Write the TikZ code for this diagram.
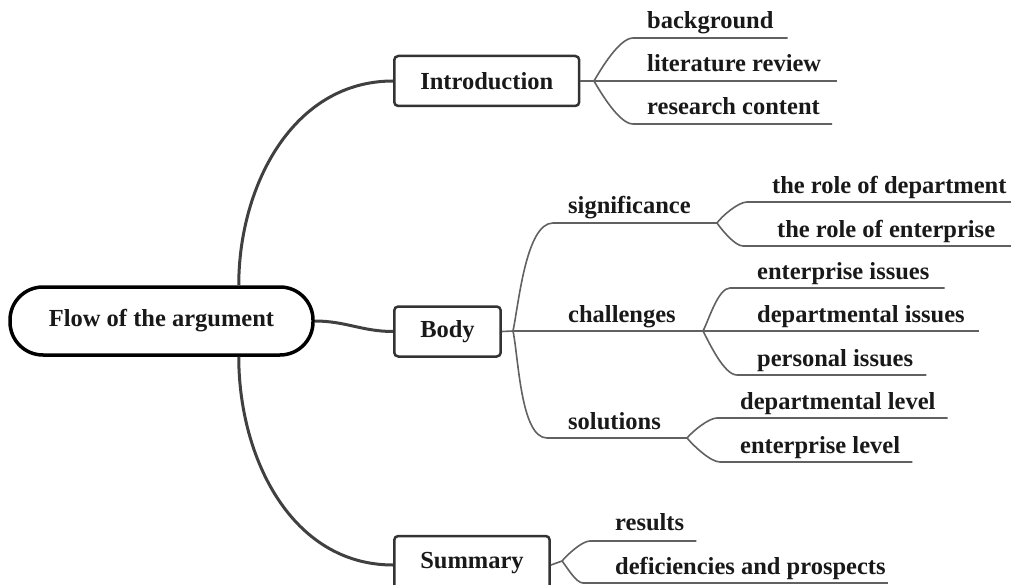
\documentclass[tikz,border=0pt]{standalone}
\usepackage{fontspec}
\setmainfont{Liberation Serif}
\usetikzlibrary{calc}

\begin{document}
\begin{tikzpicture}[
    x=1pt, y=-1pt,
    every node/.style={font=\fontsize{24.5}{28}\selectfont\bfseries, text=black!90},
    root node/.style={draw=black, line width=3.5pt, rounded corners=33pt, minimum width=303pt, minimum height=68pt, inner sep=0pt},
    part node/.style={draw=black!80, line width=2.5pt, rounded corners=4pt, minimum height=50pt, inner xsep=26pt, anchor=west},
    leaf node/.style={inner sep=0pt, anchor=base west},
    main edge/.style={line width=3pt, draw=black!75},
    sub edge/.style={line width=1.6pt, draw=black!62},
    fork/.style={out=#1, in=180, looseness=0.6}
]
\useasboundingbox (0,0) rectangle (1011,585);

% root and the three parts
\node[root node] (root) at (161.5, 321) {Flow of the argument};
\node[part node] (intro) at (393, 81)  {Introduction};
\node[part node] (body)  at (393, 331.5) {Body};
\node[part node, minimum height=54pt] (summ) at (393, 563) {Summary};

\draw[main edge] ([xshift=-76pt]root.north east) to[out=90, in=180] (intro.west);
\draw[main edge] (root.east) to[out=0, in=180] (body.west);
\draw[main edge] ([xshift=-76pt]root.south east) to[out=-90, in=180] ([yshift=-2pt]summ.west);

% Introduction
\node[leaf node] (bg)  at (647, 29)  {background};
\node[leaf node] (lit) at (647, 72)  {literature review};
\node[leaf node] (res) at (647, 115) {research content};
\coordinate (iB) at (594, 81);
\coordinate (iB1) at (633, 38);
\coordinate (iB3) at (633, 124);
\draw[sub edge] (intro.east) -- (iB);
\draw[sub edge] (iB) to[fork=60] (iB1) -- ($(iB1 -| bg.east)+(14,0)$);
\draw[sub edge] (iB) -- ($(iB -| lit.east)+(16,0)$);
\draw[sub edge] (iB) to[fork=-60] (iB3) -- ($(iB3 -| res.east)+(12,0)$);

% Body
\node[leaf node] (sig) at (568, 214) {significance};
\node[leaf node] (cha) at (568, 322) {challenges};
\node[leaf node] (sol) at (568, 429) {solutions};
\coordinate (bB)  at (513, 331);
\coordinate (bB1) at (553, 223);
\coordinate (bB3) at (547, 438);
\coordinate (sB)  at (717, 223);
\coordinate (cB)  at (703, 331);
\coordinate (oB)  at (687, 438);
\draw[sub edge] (body.east) -- (bB);
\draw[sub edge] (bB) to[fork=78] (bB1) -- (sB);
\draw[sub edge] (bB) -- (cB);
\draw[sub edge] (bB) to[fork=-78] (bB3) -- (oB);

% significance
\node[leaf node] (dRole) at (772, 194) {the role of department};
\node[leaf node] (eRole) at (777, 237) {the role of enterprise};
\coordinate (sB1) at (747, 202);
\coordinate (sB2) at (743, 246);
\draw[sub edge] (sB) to[fork=55] (sB1) -- (1011, 202);
\draw[sub edge] (sB) to[fork=-55] (sB2) -- (1011, 246);

% challenges
\node[leaf node] (eIss) at (757, 279) {enterprise issues};
\node[leaf node] (dIss) at (757, 322) {departmental issues};
\node[leaf node] (pIss) at (757, 366) {personal issues};
\coordinate (cB1) at (730, 288);
\coordinate (cB3) at (737, 375);
\draw[sub edge] (cB) to[fork=62] (cB1) -- ($(cB1 -| eIss.east)+(15,0)$);
\draw[sub edge] (cB) -- ($(cB -| dIss.east)+(14,0)$);
\draw[sub edge] (cB) to[fork=-62] (cB3) -- ($(cB3 -| pIss.east)+(13,0)$);

% solutions
\node[leaf node] (dLev) at (740, 409) {departmental level};
\node[leaf node] (eLev) at (740, 453) {enterprise level};
\coordinate (oB1) at (717, 418);
\coordinate (oB2) at (720, 462);
\draw[sub edge] (oB) to[fork=50] (oB1) -- ($(oB1 -| dLev.east)+(12,0)$);
\draw[sub edge] (oB) to[fork=-50] (oB2) -- ($(oB2 -| eLev.east)+(12,0)$);

% Summary
\node[leaf node] (rsl) at (615, 530) {results};
\node[leaf node] (dfp) at (615, 574) {deficiencies and prospects};
\coordinate (mB)  at (562, 561);
\coordinate (mB1) at (590, 541);
\coordinate (mB2) at (583, 583);
\draw[sub edge] ([yshift=-2pt]summ.east) -- (mB);
\draw[sub edge] (mB) to[fork=50] (mB1) -- ($(mB1 -| rsl.east)+(12,0)$);
\draw[sub edge] (mB) to[fork=-50] (mB2) -- ($(mB2 -| dfp.east)+(2,0)$);

\end{tikzpicture}
\end{document}
